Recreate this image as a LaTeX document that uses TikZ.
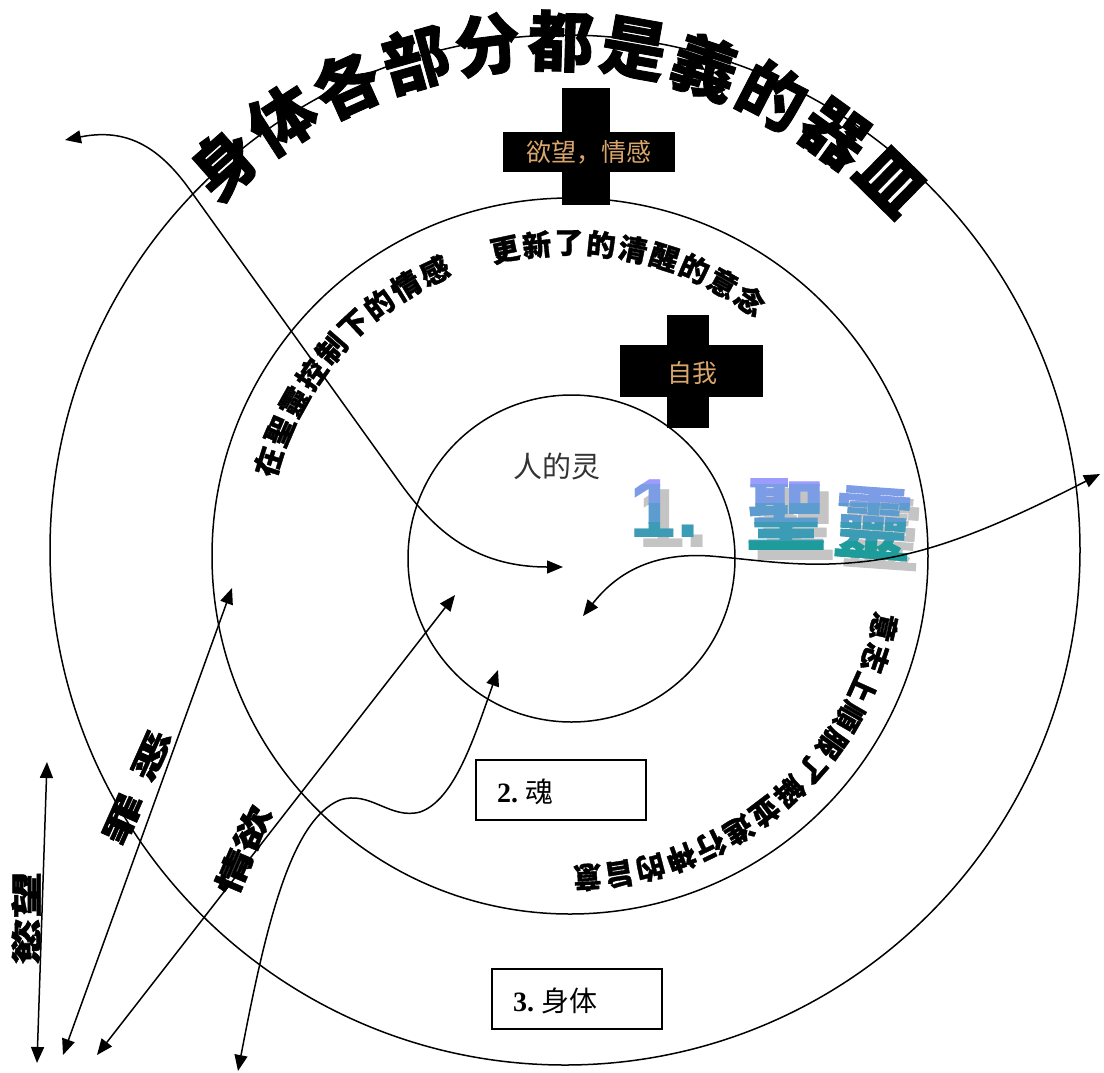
\documentclass[tikz,border=0pt]{standalone}
\usepackage{fontspec}
\setmainfont{Liberation Serif}
\newfontfamily\cjk{Noto Sans CJK SC}[BoldFeatures={FakeBold=1.2}]
\newfontfamily\wasans{Liberation Sans}
\usetikzlibrary{arrows.meta,calc}
\definecolor{crosstxt}{HTML}{D9A66B}
\definecolor{walav}{HTML}{9C9CFF}
\definecolor{wateal}{HTML}{1E9C9C}
\definecolor{washadow}{HTML}{C4C4C4}
\definecolor{soultxt}{HTML}{333333}
\newcommand\arctext[7]{%
  \foreach \c [count=\i from 0] in {#7} {
    \pgfmathsetmacro\nang{\i*#5-#4}
    \pgfmathsetmacro\rot{#4-#5*\i-90}
    \node[font=#6, rotate=\rot, inner sep=0pt] (#1\i) at ($(#2)+(\nang:#3)$) {\c};
  }}
\begin{document}
\begin{tikzpicture}[x=1pt,y=-1pt,line width=1.5pt,
  >={Triangle[length=16pt,width=13pt]},
  crosslabel/.style={font=\cjk\fontsize{25}{25}\selectfont, text=crosstxt, inner sep=0pt},
  labelbox/.style={draw, line width=1.3pt, minimum width=170pt, minimum height=60pt, inner sep=0pt},
  boxtxt/.style={anchor=west, inner sep=0pt, font=\fontsize{28}{28}\selectfont},
  wa1/.style={font=\wasans\bfseries\fontsize{84}{84}\selectfont, inner sep=0pt},
  wa2/.style={font=\cjk\bfseries\fontsize{78}{78}\selectfont, inner sep=0pt},
  sidelabel/.style={font=\cjk\bfseries\fontsize{31}{31}\selectfont, inner sep=0pt}]
\useasboundingbox (0,0) rectangle (1104,1072);
\fill[white] (0,0) rectangle (1104,1072);

% circles
\coordinate (C1) at (565,550);
\coordinate (C2) at (570,556);
\coordinate (C3) at (571.5,558.5);
\coordinate (Ct) at (548,530);
\draw (C1) circle[radius=515];
\draw (C2) circle[radius=358];
\draw (C3) circle[radius=163.5];

% title along the outer circle
\arctext{ti}{Ct}{489}{131.5}{8.6}{\cjk\bfseries\fontsize{66}{68}\selectfont}{身,体,各,部,分,都,是,義,的,器,皿}

% texts along the middle circle
\arctext{ta}{C2}{313}{102}{5.9}{\cjk\bfseries\fontsize{29}{30}\selectfont}{更,新,了,的,清,醒,的,意,念}
\arctext{tb}{C2}{316}{162.6}{5.9}{\cjk\bfseries\fontsize{29}{30}\selectfont}{在,聖,靈,控,制,下,的,情,感}
\arctext{tc}{C2}{322}{-12.8}{5.7}{\cjk\bfseries\fontsize{29}{30}\selectfont}{意,志,上,順,服,了,解,並,進,行,神,的,旨,意}

% crosses
\fill (562,88) rectangle (610,205);
\fill (503,132) rectangle (675,172);
\node[crosslabel] (desire) at (589,152) {欲望，情感};
\fill (667,315) rectangle (709,428);
\fill (620,345) rectangle (763,397);
\node[crosslabel] (self) at (692,373) {自我};

% inner label
\node[font=\cjk\fontsize{29}{29}\selectfont, text=soultxt, inner sep=0pt] (hs) at (557,466) {人的灵};

% word art 1. 聖靈
\node[wa1, text=washadow] (wa1s) at (674,519) {1.};
\node[wa2, text=washadow] (wa2s) at (795,524) {聖};
\node[wa2, text=washadow, rotate=-4] (wa3s) at (882,533) {靈};
\foreach \k in {0,...,4} {
  \pgfmathtruncatemacro\p{100*\k/4}
  \begin{scope}
    \clip (600,{466+19*\k-0.6}) rectangle (940,{485+19*\k+0.6});
    \node[wa1, text=wateal!\p!walav] (wa1t\k) at (665,509) {1.};
    \node[wa2, text=wateal!\p!walav] (wa2t\k) at (786,514) {聖};
    \node[wa2, text=wateal!\p!walav, rotate=-4] (wa3t\k) at (873,523) {靈};
  \end{scope}
}

% boxes
\node[labelbox] (soul) at (561,790) {};
\node[boxtxt] (soultxt) at ($(soul.west)+(21,2)$) {\textbf{2.}\ {\cjk\fontsize{28}{28}\selectfont 魂}};
\node[labelbox] (body) at (577,999) {};
\node[boxtxt] (bodytxt) at ($(body.west)+(21,2)$) {\textbf{3.}\ {\cjk\fontsize{28}{28}\selectfont 身体}};

% side labels
\node[sidelabel, rotate=90] (lab1) at (26,918) {\scalebox{1.5}[1]{慾望}};
\node[sidelabel, rotate=66] (lab2) at (137,787) {\scalebox{1.7}[1]{罪\hspace{10pt}恶}};
\node[sidelabel, rotate=67] (lab3) at (243,850) {\scalebox{1.5}[1]{情欲}};

% connectors
\coordinate (c1a) at (65,140);
\coordinate (c1b) at (563,567);
\draw[<->] (c1a) .. controls (125,128) and (158,145) .. (190,190) -- (398,480) .. controls (430,525) and (470,567) .. (c1b);
\coordinate (c2a) at (583,616);
\coordinate (c2b) at (1100,474);
\draw[<->] (c2a) .. controls (615,575) and (650,552) .. (710,556) .. controls (760,560) and (800,568) .. (860,562) .. controls (930,555) and (1000,525) .. (c2b);
\coordinate (c3a) at (232,588);
\coordinate (c3b) at (63,1055);
\draw[<->] (c3a) -- (c3b);
\coordinate (c4a) at (455,595);
\coordinate (c4b) at (97,1055);
\draw[<->] (c4a) -- (c4b);
\coordinate (c5a) at (47,762);
\coordinate (c5b) at (37,1063);
\draw[<->] (c5a) -- (c5b);
\coordinate (c6a) at (498,670);
\coordinate (c6b) at (238,1071);
\draw[<->] (c6a) .. controls (475,735) and (455,800) .. (420,812) .. controls (390,820) and (370,790) .. (340,800) .. controls (290,820) and (265,930) .. (c6b);
\end{tikzpicture}
\end{document}
